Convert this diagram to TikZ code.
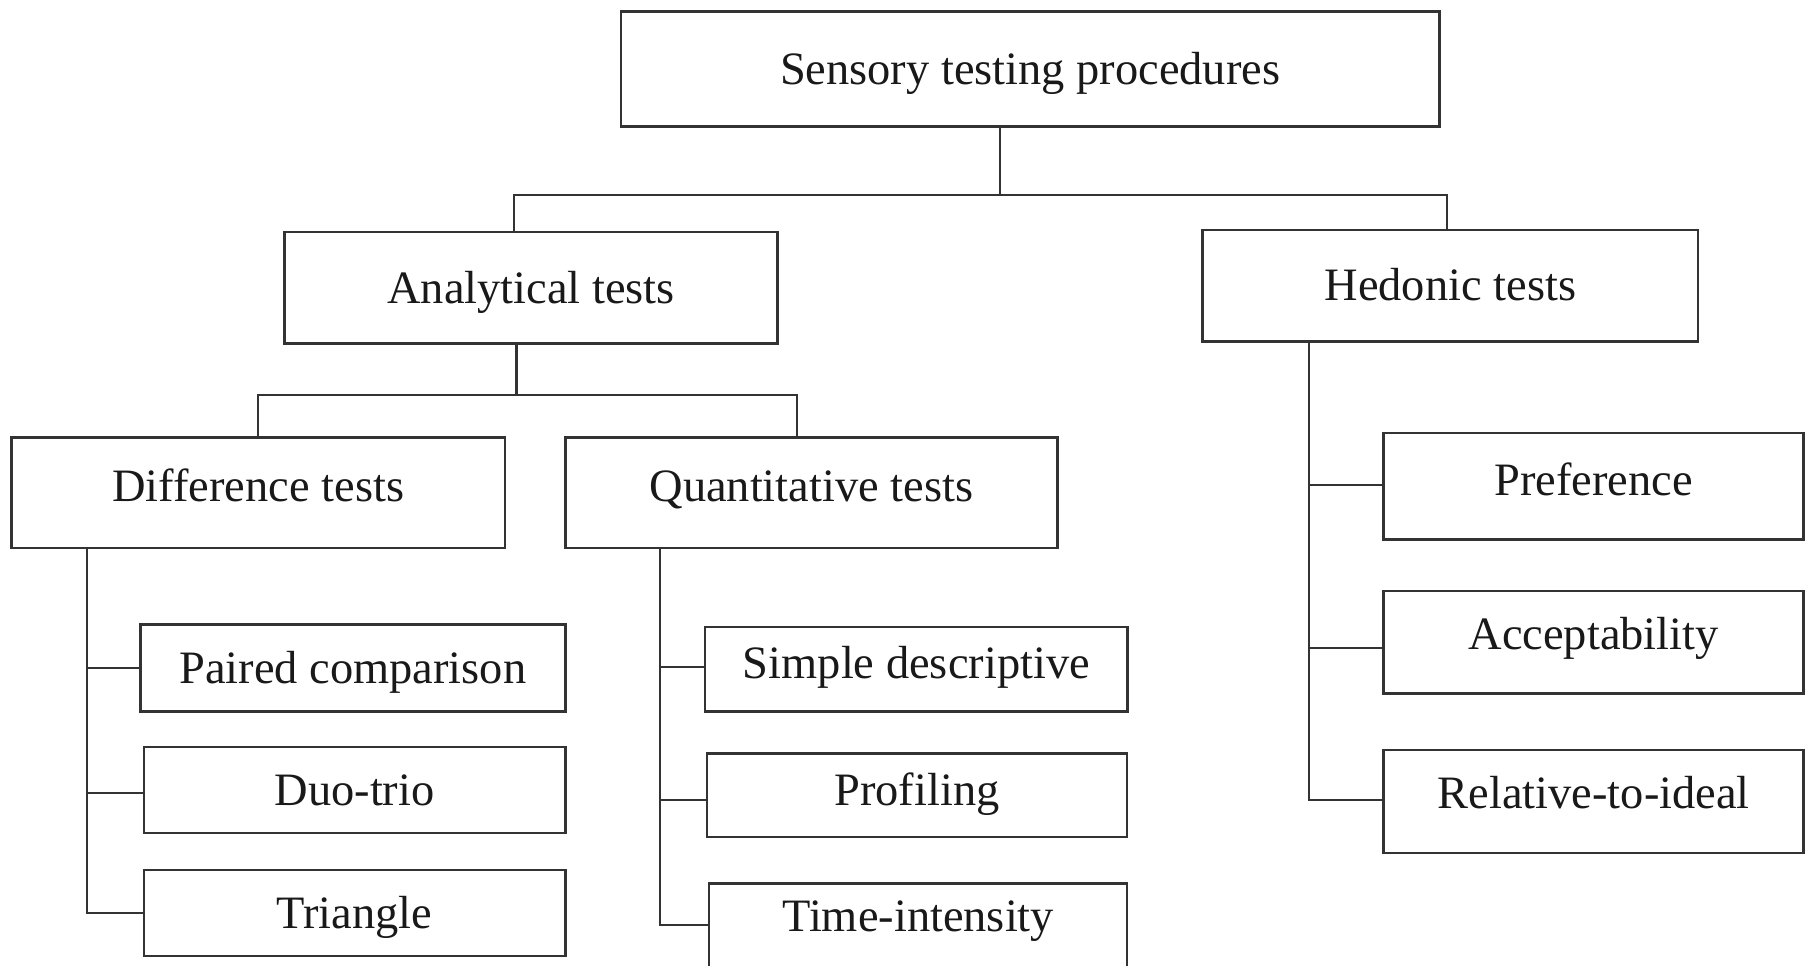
\documentclass[tikz,border=0pt]{standalone}
\usepackage{fontspec}
\setmainfont{Liberation Serif}
\usetikzlibrary{calc}
\begin{document}
\begin{tikzpicture}[x=0.5pt,y=-0.5pt,
 box/.style={draw=black!80, line width=1.1pt, inner sep=0pt, outer sep=0pt,
   font=\fontsize{20}{24}\selectfont, text=black!90, text height=13.2pt, text depth=0pt, align=center},
 conn/.style={draw=black!80, line width=0.9pt}]
\useasboundingbox (0,0) rectangle (1568,832);
% level 0
\node[box, minimum width=352.5pt, minimum height=49.5pt] (root) at (887.5,59.5) {Sensory testing procedures};
% level 1
\node[box, minimum width=212.5pt, minimum height=48pt] (ana) at (457.5,248) {Analytical tests};
\node[box, minimum width=213.5pt, minimum height=48pt] (hed) at (1249.5,246) {Hedonic tests};
% level 2
\node[box, minimum width=212.5pt, minimum height=47.5pt, text depth=6pt] (dif) at (222.5,424.5) {Difference tests};
\node[box, minimum width=212pt, minimum height=47.5pt, text depth=6pt] (qua) at (699,424.5) {Quantitative tests};
% difference children
\node[box, minimum width=183pt, minimum height=37.5pt] (pc) at (304,575.5) {Paired comparison};
\node[box, minimum width=181.5pt, minimum height=37pt] (duo) at (305.5,680.5) {Duo-trio};
\node[box, minimum width=181.5pt, minimum height=37pt] (tri) at (305.5,786.5) {Triangle};
% quantitative children
\node[box, minimum width=182pt, minimum height=36.5pt, text depth=5.5pt] (sim) at (789.5,576.5) {Simple descriptive};
\node[box, minimum width=181pt, minimum height=36pt, text depth=4pt] (pro) at (790,685) {Profiling};
\node[box, minimum width=180pt, minimum height=36pt, text depth=8pt] (tim) at (791,797) {Time-intensity};
% hedonic children
\node[box, minimum width=181pt, minimum height=46pt, text depth=5pt] (pre) at (1373,419) {Preference};
\node[box, minimum width=181pt, minimum height=44.3pt, text depth=7pt] (acc) at (1373,553.3) {Acceptability};
\node[box, minimum width=181pt, minimum height=44.5pt, text depth=7pt] (rel) at (1373,690.5) {Relative-to-ideal};
% junction coordinates
\coordinate (rj) at (861.5,168);
\coordinate (aj) at (445,340.5);
\coordinate (dx) at (75,0);
\coordinate (qx) at (568.6,0);
\coordinate (hx) at (1128,0);
% connectors
\draw[conn] (root.south -| rj) -- (rj);
\draw[conn] ($(ana.north)+(-15,0)$) |- (rj) -| ($(hed.north)+(-3,0)$);
\draw[conn] (ana.south -| aj) -- (aj);
\draw[conn] (dif.north) |- (aj) -| ($(qua.north)+(-12.5,0)$);
\draw[conn] (dif.south -| dx) |- (tri.west);
\draw[conn] (pc.west) -- (pc.west -| dx);
\draw[conn] ($(duo.west)+(0,2.5)$) -- ($(duo.west -| dx)+(0,2.5)$);
\draw[conn] (qua.south -| qx) |- (tim.west);
\draw[conn] ($(sim.west)+(0,-1.5)$) -- ($(sim.west -| qx)+(0,-1.5)$);
\draw[conn] ($(pro.west)+(0,4.5)$) -- ($(pro.west -| qx)+(0,4.5)$);
\draw[conn] (hed.south -| hx) |- ($(rel.west)+(0,-1)$);
\draw[conn] ($(pre.west)+(0,-1)$) -- ($(pre.west -| hx)+(0,-1)$);
\draw[conn] ($(acc.west)+(0,4.7)$) -- ($(acc.west -| hx)+(0,4.7)$);
\end{tikzpicture}
\end{document}
